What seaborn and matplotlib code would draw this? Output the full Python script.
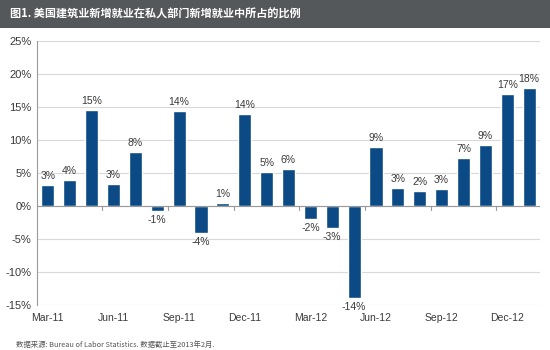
import matplotlib
matplotlib.use("Agg")
import matplotlib.pyplot as plt
import seaborn as sns
import pandas as pd
from matplotlib.patches import Rectangle

months = ["Mar-11", "Apr-11", "May-11", "Jun-11", "Jul-11", "Aug-11", "Sep-11", "Oct-11",
          "Nov-11", "Dec-11", "Jan-12", "Feb-12", "Mar-12", "Apr-12", "May-12", "Jun-12",
          "Jul-12", "Aug-12", "Sep-12", "Oct-12", "Nov-12", "Dec-12", "Jan-13"]
values = [3.1, 3.9, 14.6, 3.3, 8.2, -0.85, 14.4, -4.1, 0.45, 14.0, 5.15, 5.55, -2.0, -3.4,
          -14.0, 8.9, 2.7, 2.2, 2.5, 7.3, 9.2, 16.9, 17.8]
labels = ["3%", "4%", "15%", "3%", "8%", "-1%", "14%", "-4%", "1%", "14%", "5%", "6%", "-2%",
          "-3%", "-14%", "9%", "3%", "2%", "3%", "7%", "9%", "17%", "18%"]
yticks = [-15, -10, -5, 0, 5, 10, 15, 20, 25]
xtick_labels = ["Mar-11", "Jun-11", "Sep-11", "Dec-11", "Mar-12", "Jun-12", "Sep-12", "Dec-12"]
title = "图1. 美国建筑业新增就业在私人部门新增就业中所占的比例"
source = "数据来源: Bureau of Labor Statistics. 数据截止至2013年2月."

sns.set_style("white")
plt.rcParams['font.family'] = ['Liberation Sans', 'Noto Sans CJK SC', 'DejaVu Sans']

df = pd.DataFrame({"month": months, "value": values})

fig = plt.figure(figsize=(5.5, 3.5), dpi=100)
ax = fig.add_axes([0.067, 0.129, 0.915, 0.754])

sns.barplot(data=df, x="month", y="value", color="#0b4a85", saturation=1, width=0.6, ax=ax)

ax.set_ylim(-15, 25)
ax.set_xlim(-0.5, len(months) - 0.5)
ax.set_yticks(yticks)
ax.set_yticklabels([f"{t}%" for t in yticks], fontsize=8, color="#3a3a3a")
ax.yaxis.grid(True, color="#d9d9d9", linewidth=0.8)
ax.set_axisbelow(True)
for s in ["top", "right", "bottom"]:
    ax.spines[s].set_visible(False)
ax.spines["left"].set_color("#999999")
ax.spines["left"].set_linewidth(0.8)
ax.tick_params(axis="y", length=0, pad=4)
ax.set_xlabel("")
ax.set_ylabel("")

# x tick labels every 3 months
idx = [months.index(m) for m in xtick_labels]
ax.set_xticks(idx)
ax.set_xticklabels(xtick_labels, fontsize=7.5, color="#3a3a3a")
ax.tick_params(axis="x", length=0, pad=6)
# zero line with tick marks at category boundaries
ax.axhline(0, color="#999999", linewidth=0.8, zorder=3)
for b in range(3, len(months), 3):
    ax.plot([b - 0.5, b - 0.5], [0, -0.6], color="#999999", linewidth=0.8, zorder=3, clip_on=False)

# data labels
for i, (v, lab) in enumerate(zip(values, labels)):
    if v >= 0:
        ax.text(i, v + 0.6, lab, ha="center", va="bottom", fontsize=7.5, color="#3a3a3a")
    else:
        ax.text(i, v - 0.6, lab, ha="center", va="top", fontsize=7.5, color="#3a3a3a")

# title band
fig.patches.append(Rectangle((0, 1 - 28 / 350), 1, 28 / 350, transform=fig.transFigure,
                             facecolor="#55585b", edgecolor="none", zorder=0))
fig.text(10 / 550, 1 - 14 / 350, title, color="white", fontsize=8, fontweight="bold",
         va="center", ha="left", family=['Noto Sans CJK SC', 'DejaVu Sans'])
fig.text(16 / 550, 1 - 345 / 350, source, color="#555555", fontsize=5.3, va="center", ha="left",
         family=['Noto Sans CJK SC', 'DejaVu Sans'])

fig.savefig("out.png", dpi=100)
